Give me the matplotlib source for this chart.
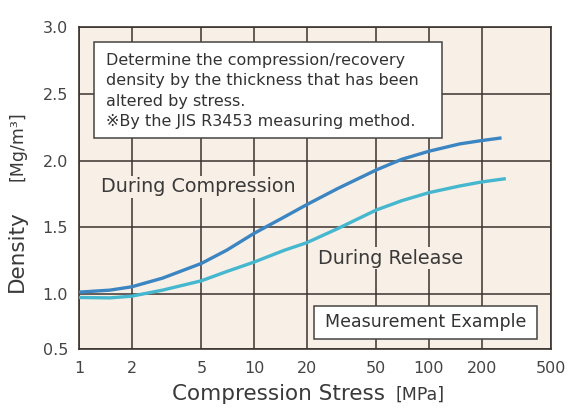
import matplotlib.pyplot as plt
from matplotlib.patches import Rectangle

plt.rcParams['font.family'] = ['DejaVu Sans']

# 読み取った値 (圧縮応力 MPa / 密度 Mg/m3)
comp_x = [1, 1.5, 2, 3, 5, 7, 10, 15, 20, 30, 50, 70, 100, 150, 200, 260]
comp_y = [1.015, 1.03, 1.055, 1.12, 1.23, 1.33, 1.455, 1.58, 1.67, 1.79, 1.93, 2.01, 2.07, 2.125, 2.15, 2.17]
rel_x = [1, 1.5, 2, 3, 5, 7, 10, 15, 20, 30, 50, 70, 100, 150, 200, 275]
rel_y = [0.975, 0.972, 0.985, 1.03, 1.10, 1.17, 1.24, 1.33, 1.385, 1.49, 1.63, 1.70, 1.76, 1.81, 1.84, 1.865]

x_ticks = [1, 2, 5, 10, 20, 50, 100, 200, 500]
x_labels = ['1', '2', '5', '10', '20', '50', '100', '200', '500']
y_ticks = [1.0, 1.5, 2.0, 2.5, 3.0]
y_labels = ['1.0', '1.5', '2.0', '2.5', '3.0']
y_bottom = 0.586  # 0.5 の目盛り位置 (元図は下端が詰めてある)

bg = '#f8efe6'
grid_c = '#3b3330'
txt_c = '#3a3a3a'

fig = plt.figure(figsize=(5.73, 4.16), dpi=100)
ax = fig.add_axes([0.138, 0.160, 0.824, 0.775])
ax.set_facecolor(bg)

ax.set_xscale('log')
ax.set_xlim(1, 500)
ax.set_ylim(y_bottom, 3.0)
ax.set_xticks(x_ticks)
ax.set_xticklabels(x_labels)
ax.xaxis.set_minor_locator(plt.NullLocator())
ax.set_yticks([y_bottom] + y_ticks)
ax.set_yticklabels(['0.5'] + y_labels)
ax.tick_params(length=0, labelsize=11.5, labelcolor='#444444', pad=8)
ax.grid(True, color=grid_c, lw=1.1)
ax.set_axisbelow(True)
for s in ax.spines.values():
    s.set_color(grid_c)
    s.set_linewidth(1.2)

ax.plot(comp_x, comp_y, color='#3a85c2', lw=2.4, solid_capstyle='butt', zorder=3)
ax.plot(rel_x, rel_y, color='#45b7cf', lw=2.4, solid_capstyle='butt', zorder=3)

# 説明の枠
ax.add_patch(Rectangle((0.031, 0.656), 0.737, 0.297, transform=ax.transAxes,
                       facecolor='white', edgecolor='#444444', lw=1.1, zorder=4))
ax.text(0.057, 0.921,
        'Determine the compression/recovery\ndensity by the thickness that has been\n'
        'altered by stress.\n\u203bBy the JIS R3453 measuring method.',
        transform=ax.transAxes, ha='left', va='top', fontsize=11.5,
        color='#333333', linespacing=1.47, zorder=5,
        family=['DejaVu Sans', 'Noto Sans CJK JP'])

ax.add_patch(Rectangle((0.498, 0.032), 0.472, 0.103, transform=ax.transAxes,
                       facecolor='white', edgecolor='#444444', lw=1.1, zorder=4))
ax.text(0.734, 0.084, 'Measurement Example', transform=ax.transAxes,
        ha='center', va='center', fontsize=12.5, color='#333333', zorder=5)

ax.text(0.046, 0.504, 'During Compression', transform=ax.transAxes,
        ha='left', va='center', fontsize=13.8, color=txt_c, zorder=2,
        bbox=dict(facecolor=bg, edgecolor='none', pad=1))
ax.text(0.506, 0.283, 'During Release', transform=ax.transAxes,
        ha='left', va='center', fontsize=13.8, color=txt_c, zorder=2,
        bbox=dict(facecolor=bg, edgecolor='none', pad=1))

# 軸ラベル
fig.text(0.030, 0.298, 'Density', rotation=90, ha='center', va='bottom',
         fontsize=15.5, color=txt_c)
fig.text(0.030, 0.565, '[Mg/m\u00b3]', rotation=90, ha='center', va='bottom',
         fontsize=12.5, color=txt_c)
fig.text(0.300, 0.052, 'Compression Stress', ha='left', va='center',
         fontsize=15.5, color=txt_c)
fig.text(0.690, 0.052, '[MPa]', ha='left', va='center', fontsize=12.5, color=txt_c)

plt.savefig('out.png', dpi=100)
